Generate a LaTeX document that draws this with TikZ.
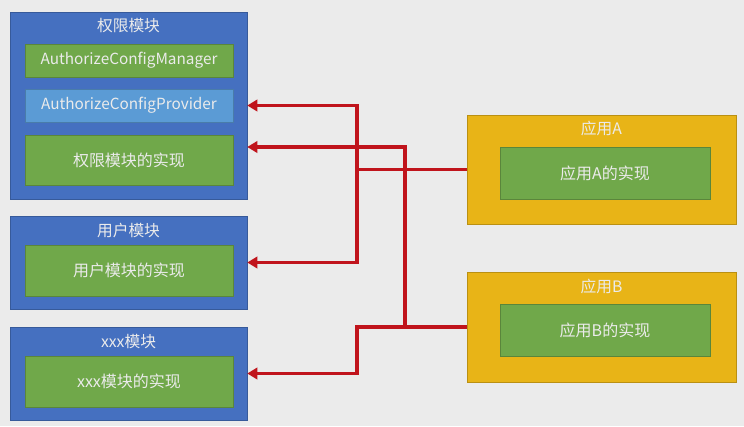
\documentclass[tikz,border=0pt]{standalone}
\usepackage{fontspec}
\setmainfont{Noto Sans CJK SC}
\usetikzlibrary{arrows.meta, positioning, calc}

\definecolor{bgGray}{HTML}{EBEBEB}
\definecolor{modBlue}{HTML}{4570C0}
\definecolor{implGreen}{HTML}{70A84A}
\definecolor{provBlue}{HTML}{5B9BD5}
\definecolor{appYellow}{HTML}{E8B417}
\definecolor{linkRed}{HTML}{C0141C}

\begin{document}
\begin{tikzpicture}[
    x=0.75pt, y=-0.75pt,
    box/.style={rectangle, draw=#1!80!black, fill=#1, line width=0.4pt, inner sep=0pt},
    module/.style={box=modBlue, minimum width=177.75pt},
    part/.style={box=#1, minimum width=156pt, font=\fontsize{11.5}{13}\selectfont, text=white!92!black},
    app/.style={box=appYellow, minimum width=201.75pt},
    title/.style={font=\fontsize{11.8}{13}\selectfont, text=white!92!black, inner sep=0pt},
    link/.style={draw=linkRed, line width=2.5pt},
    arrow/.style={link, -{Triangle[length=7.5pt, width=8.5pt]}}
]
% background
\fill[bgGray] (0,0) rectangle (744,426);

% Modules on the left
\node[module, minimum height=140.25pt] (auth) at (128.5,105.5) {};
\node[title] (authTitle) at (128.5,26) {权限模块};
\node[part=implGreen, minimum height=24.75pt] (mgr) at (129,60.5) {AuthorizeConfigManager};
\node[part=provBlue, minimum height=24.75pt] (prov) at (129,105.5) {AuthorizeConfigProvider};
\node[part=implGreen, minimum height=37.5pt, font=\fontsize{12}{13}\selectfont] (authImpl) at (129,160) {权限模块的实现};

\node[module, minimum height=69.75pt] (user) at (128.5,262.5) {};
\node[title] (userTitle) at (128.5,231) {用户模块};
\node[part=implGreen, minimum height=38.25pt, font=\fontsize{12}{13}\selectfont] (userImpl) at (129,270.5) {用户模块的实现};

\node[module, minimum height=69.75pt] (xxx) at (128.5,373.5) {};
\node[title] (xxxTitle) at (128.5,342) {xxx模块};
\node[part=implGreen, minimum height=38.25pt, font=\fontsize{12}{13}\selectfont] (xxxImpl) at (129,381.5) {xxx模块的实现};

% Applications on the right
\node[app, minimum height=81.75pt] (appA) at (601.5,169.5) {};
\node[title] (appATitle) at (601.5,129) {应用A};
\node[part=implGreen, minimum height=39pt, minimum width=157.5pt, font=\fontsize{12}{13}\selectfont] (appAImpl) at (605,173) {应用A的实现};

\node[app, minimum height=82.5pt] (appB) at (601.5,327) {};
\node[title] (appBTitle) at (601.5,287) {应用B};
\node[part=implGreen, minimum height=39pt, minimum width=157.5pt, font=\fontsize{12}{13}\selectfont] (appBImpl) at (605,330) {应用B的实现};

% Junctions
\coordinate (jA) at (357,169.5);
\coordinate (jB) at (405,327);
\coordinate (jC) at (357,327);
\coordinate (authIn) at ($(auth.east)+(0,41.5)$);

% Links
\draw[link] (appA.west) -- (jA);
\draw[arrow] (jA) |- (auth.east |- prov.east);
\draw[arrow] (jA) |- (user.east);
\draw[link] (appB.west) -- (jB);
\draw[arrow] (jB) |- (authIn);
\draw[arrow] (jB) -- (jC) |- (xxx.east);
\end{tikzpicture}
\end{document}
